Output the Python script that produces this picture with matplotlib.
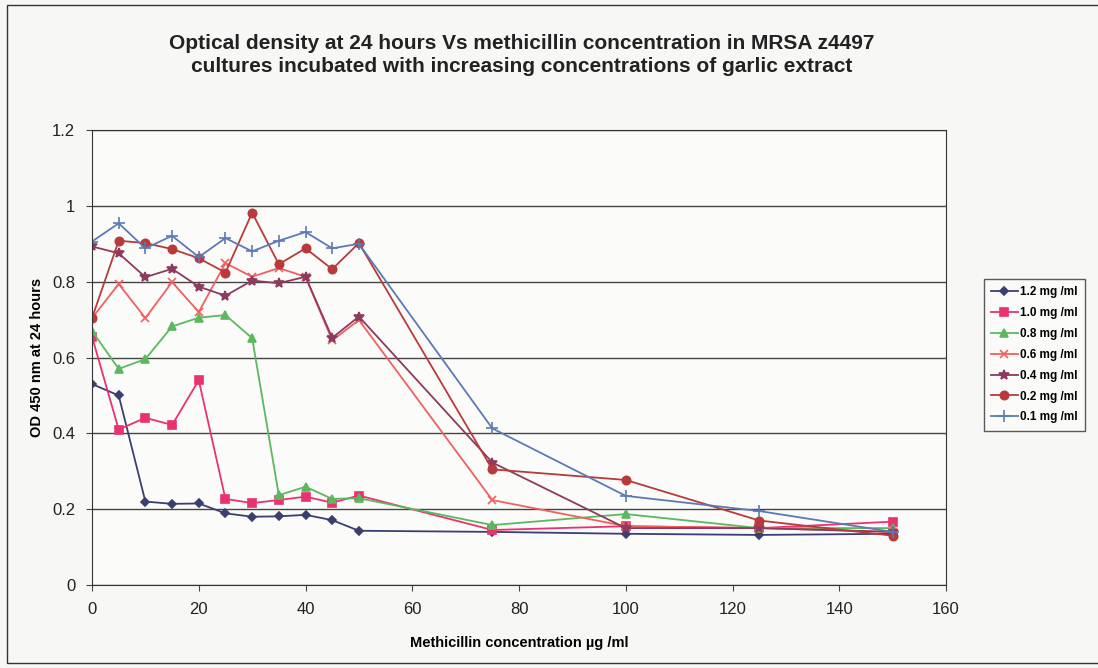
import numpy as np
import matplotlib
matplotlib.use("Agg")
import matplotlib.pyplot as plt
from matplotlib.patches import Rectangle

plt.rcParams['font.family'] = ['Liberation Sans', 'DejaVu Sans']

# methicillin concentration (ug/ml)
conc = [0, 5, 10, 15, 20, 25, 30, 35, 40, 45, 50, 75, 100, 125, 150]

# OD 450 nm at 24 hours, one list per garlic extract concentration
od_12 = [0.53, 0.50, 0.22, 0.214, 0.215, 0.189, 0.18, 0.181, 0.185, 0.171, 0.143, 0.14, 0.135, 0.132, 0.135]
od_10 = [0.655, 0.41, 0.441, 0.422, 0.54, 0.227, 0.216, 0.224, 0.233, 0.217, 0.236, 0.145, 0.155, 0.15, 0.167]
od_08 = [0.67, 0.57, 0.596, 0.682, 0.705, 0.712, 0.651, 0.237, 0.259, 0.227, 0.229, 0.158, 0.187, 0.15, 0.15]
od_06 = [0.704, 0.794, 0.704, 0.799, 0.72, 0.849, 0.813, 0.836, 0.813, 0.645, 0.699, 0.224, 0.155, 0.15, 0.14]
od_04 = [0.893, 0.875, 0.812, 0.834, 0.787, 0.763, 0.803, 0.796, 0.813, 0.652, 0.708, 0.323, 0.15, 0.15, 0.14]
od_02 = [0.704, 0.908, 0.902, 0.886, 0.862, 0.824, 0.982, 0.846, 0.888, 0.833, 0.902, 0.305, 0.277, 0.17, 0.13]
od_01 = [0.906, 0.954, 0.888, 0.921, 0.865, 0.915, 0.88, 0.908, 0.931, 0.888, 0.90, 0.413, 0.235, 0.195, 0.14]

labels = ['1.2 mg /ml', '1.0 mg /ml', '0.8 mg /ml', '0.6 mg /ml',
          '0.4 mg /ml', '0.2 mg /ml', '0.1 mg /ml']
series = [od_12, od_10, od_08, od_06, od_04, od_02, od_01]
colors = ['#3b3f70', '#e8336f', '#5cb85c', '#f06060', '#8e3a5e', '#b83a3a', '#5b7ab5']
markers = ['D', 's', '^', 'x', '*', 'o', '+']
msizes = [4, 6, 6, 6, 7, 6, 8]

fig = plt.figure(figsize=(10.98, 6.68), dpi=100)
fig.patch.set_facecolor('#f7f7f5')
fig.patches.append(Rectangle((0.006, 0.008), 1.2, 0.984, transform=fig.transFigure,
                             fill=False, edgecolor='#333333', linewidth=1.0))

ax = fig.add_axes([0.0838, 0.1243, 0.7778, 0.681])
ax.set_facecolor('#fbfbfa')

for ys, lab, c, m, ms in zip(series, labels, colors, markers, msizes):
    ax.plot(conc, ys, color=c, marker=m, markersize=ms, linewidth=1.3,
            markeredgewidth=1.2, label=lab)

ax.set_xlim(0, 160)
ax.set_ylim(0, 1.2)
ax.set_xticks(np.arange(0, 161, 20))
ax.set_yticks([0, 0.2, 0.4, 0.6, 0.8, 1, 1.2])
ax.set_yticklabels(['0', '0.2', '0.4', '0.6', '0.8', '1', '1.2'])
ax.yaxis.grid(True, color='#444444', linewidth=1.0)
ax.set_axisbelow(True)
for s in ax.spines.values():
    s.set_color('#333333')
ax.tick_params(axis='both', direction='out', length=4, color='#444444',
               labelsize=12, labelcolor='#222222', pad=8)

ax.set_xlabel('Methicillin concentration µg /ml', fontsize=10.5, fontweight='bold', labelpad=14)
ax.set_ylabel('OD 450 nm at 24 hours', fontsize=10.5, fontweight='bold', labelpad=6)

fig.text(0.475, 0.918, 'Optical density at 24 hours Vs methicillin concentration in MRSA z4497\n'
         'cultures incubated with increasing concentrations of garlic extract',
         ha='center', va='center', fontsize=15, fontweight='bold', linespacing=1.25,
         color='#222222')

leg = fig.legend(loc='upper left', bbox_to_anchor=(0.896, 0.582),
                 prop={'weight': 'bold', 'size': 8.5},
                 frameon=True, fancybox=False, edgecolor='#333333', handlelength=2.3,
                 borderpad=0.6, labelspacing=0.75, handletextpad=0.2, borderaxespad=0.0)
leg.get_frame().set_facecolor('#fbfbfa')

fig.savefig('out.png', dpi=100, facecolor=fig.get_facecolor())
